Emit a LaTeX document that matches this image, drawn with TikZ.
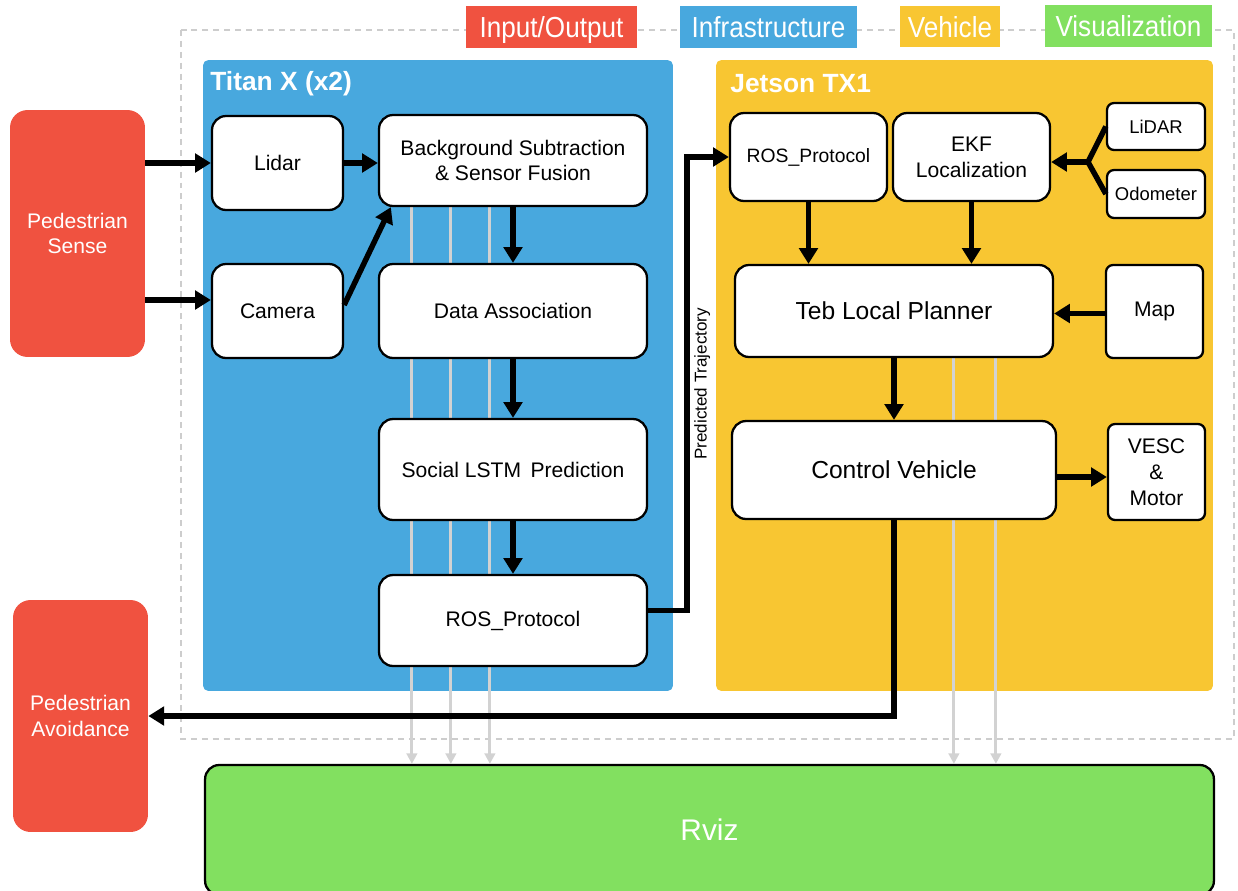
\documentclass[tikz,border=0pt]{standalone}
\usepackage{fontspec}
\setmainfont{Liberation Sans}
\newfontfamily\legfont[FakeStretch=0.9]{Liberation Sans}
\usetikzlibrary{arrows.meta,calc}

\definecolor{ioRed}{RGB}{240,82,64}
\definecolor{infraBlue}{RGB}{72,168,222}
\definecolor{vehYellow}{RGB}{248,198,50}
\definecolor{visGreen}{RGB}{130,224,96}
\definecolor{lightGray}{RGB}{210,210,210}
\definecolor{frameGray}{RGB}{205,205,205}

\pgfdeclarelayer{bg}
\pgfsetlayers{bg,main}

\begin{document}
\begin{tikzpicture}[x=0.02cm, y=-0.02cm]
\tikzset{ >={Triangle[length=9pt,width=10.5pt]}, 
  blk/.style={draw=black, line width=1.3pt, fill=white, rounded corners=8pt, align=center, inner sep=0pt, font=\fontsize{12}{14.7}\selectfont},
  sblk/.style={blk, rounded corners=4pt, font=\fontsize{10.5}{13}\selectfont},
  ioblk/.style={fill=ioRed, rounded corners=10pt, text=white, align=center, inner sep=0pt, font=\fontsize{12}{14.7}\selectfont},
  panel/.style={rounded corners=3pt, inner sep=0pt},
  ptitle/.style={text=white, anchor=west, inner sep=0pt, font=\bfseries\fontsize{15}{18}\selectfont},
  leg/.style={text=white, inner sep=0pt, text height=13.5pt, text depth=1.5pt, font=\legfont\fontsize{16.5}{19}\selectfont},
  arr/.style={->, line width=3.1pt},
  garr/.style={-{Triangle[length=6pt,width=6pt]}, line width=1.7pt, draw=lightGray},
}

\useasboundingbox (0,0) rectangle (1238,890);

%%% Frame, panels and legend

\begin{pgfonlayer}{bg}
\draw [frameGray, line width=1.5pt, dash pattern=on 3.4pt off 2.8pt] (181,30) rectangle (1234,739);

\node [panel, fill=infraBlue, minimum width=9.4cm, minimum height=12.62cm] (titan) at (438,375.5) { };
\node [panel, fill=vehYellow, minimum width=9.94cm, minimum height=12.62cm] (jetson) at (964.5,375.5) { };
\end{pgfonlayer}
\node [ptitle] (titanT) at (210,84) {Titan X (x2)};
\node [ptitle] (jetsonT) at (730,84) {Jetson TX1};

\node [leg, fill=ioRed, minimum width=3.42cm, minimum height=0.84cm] (legIO) at (551.5,27) {Input/Output};
\node [leg, fill=infraBlue, minimum width=3.54cm, minimum height=0.84cm] (legInfra) at (768.5,27) {Infrastructure};
\node [leg, fill=vehYellow, minimum width=2.0cm, minimum height=0.82cm] (legVeh) at (950,26.5) {Vehicle};
\node [leg, fill=visGreen, minimum width=3.34cm, minimum height=0.84cm] (legVis) at (1128.5,26) {Visualization};

%%% Blocks

% input / output
\node [ioblk, minimum width=2.7cm, minimum height=4.94cm] (pSense) at (77.5,233.5) {Pedestrian\\Sense};
\node [ioblk, minimum width=2.7cm, minimum height=4.64cm] (pAvoid) at (80.5,716) {Pedestrian\\Avoidance};

% Titan X
\node [blk, minimum width=2.62cm, minimum height=1.88cm] (lidar) at (277.5,163) {Lidar};
\node [blk, minimum width=2.62cm, minimum height=1.88cm] (camera) at (277.5,311) {Camera};
\node [blk, minimum width=5.36cm, minimum height=1.82cm] (bgSub) at (513,160.5) {Background Subtraction\\\& Sensor Fusion};
\node [blk, minimum width=5.36cm, minimum height=1.88cm] (assoc) at (513,311) {Data Association};
\node [blk, minimum width=5.36cm, minimum height=2.02cm] (lstm) at (513,469.5) {Social LSTM\, Prediction};
\node [blk, minimum width=5.36cm, minimum height=1.82cm] (rosL) at (513,620.5) {ROS\_Protocol};

% Jetson TX1
\node [blk, minimum width=3.14cm, minimum height=1.76cm, font=\fontsize{11}{13}\selectfont] (rosR) at (808.5,157) {ROS\_Protocol};
\node [blk, minimum width=3.14cm, minimum height=1.76cm] (ekf) at (971.5,157) {EKF\\Localization};
\node [sblk, minimum width=1.96cm, minimum height=0.94cm] (lidarV) at (1156,126.5) {LiDAR};
\node [sblk, minimum width=1.96cm, minimum height=0.96cm] (odom) at (1156,194) {Odometer};
\node [blk, minimum width=6.36cm, minimum height=1.84cm, font=\fontsize{14}{17}\selectfont] (teb) at (894,311) {Teb Local Planner};
\node [sblk, minimum width=1.94cm, minimum height=1.86cm, font=\fontsize{12}{14.7}\selectfont] (map) at (1154.5,311.5) {Map};
\node [blk, minimum width=6.48cm, minimum height=1.96cm, font=\fontsize{14}{17}\selectfont] (ctrl) at (894,470) {Control Vehicle};
\node [sblk, minimum width=1.94cm, minimum height=1.92cm, font=\fontsize{12}{14.7}\selectfont] (vesc) at (1156.5,472) {VESC\\\&\\Motor};

% Rviz
\node [blk, fill=visGreen, text=white, minimum width=20.18cm, minimum height=2.6cm, font=\fontsize{17}{20}\selectfont] (rviz) at (709.5,830) {Rviz};

%%% Lines

% to Rviz
\begin{pgfonlayer}{bg}
\foreach \dx in {34,73,112}
  \draw [garr] ($(bgSub.south west)+(\dx,0)$) -- ($(bgSub.south west |- rviz.north)+(\dx,0)$);
\foreach \dx in {220,262}
  \draw [garr] ($(teb.south west)+(\dx,0)$) -- ($(teb.south west |- rviz.north)+(\dx,0)$);
\end{pgfonlayer}

% sensing
\coordinate (camIn) at ($(camera.west)+(0,-11)$);
\draw [arr] (pSense.east |- lidar.west) -- (lidar.west);
\draw [arr] (pSense.east |- camIn) -- (camIn);
\draw [arr] (lidar.east) -- (lidar.east -| bgSub.west);
\draw [arr] ($(camera.east)+(0,-6)$) -- ($(bgSub.south west)+(13,0)$);

% Titan X chain
\draw [arr] (bgSub.south) -- (assoc.north);
\draw [arr] (assoc.south) -- (lstm.north);
\draw [arr] (lstm.south) -- (rosL.north);

% predicted trajectory
\draw [arr] ($(rosL.east)+(0,-10)$) -- ++(39,0) |- (rosR.west)
  node [pos=0.25, rotate=90, anchor=north, inner sep=2.5pt, font=\fontsize{9.7}{11}\selectfont] (predT) {Predicted Trajectory};

% Jetson TX1
\coordinate (fork) at (1088,162);
\draw [line width=3.1pt] (lidarV.west) -- (fork) -- (odom.west);
\draw [arr] (fork) -- (fork -| ekf.east);
\draw [arr] (rosR.south) -- (rosR.south |- teb.north);
\draw [arr] (ekf.south) -- (ekf.south |- teb.north);
\draw [arr] ($(map.west)+(0,2)$) -- ($(map.west -| teb.east)+(0,2)$);
\draw [arr] (teb.south) -- (ctrl.north);
\draw [arr] ($(ctrl.east)+(0,7)$) -- ($(ctrl.east -| vesc.west)+(0,7)$);

% avoidance
\draw [arr] (ctrl.south) |- (pAvoid.east);

\end{tikzpicture}
\end{document}
